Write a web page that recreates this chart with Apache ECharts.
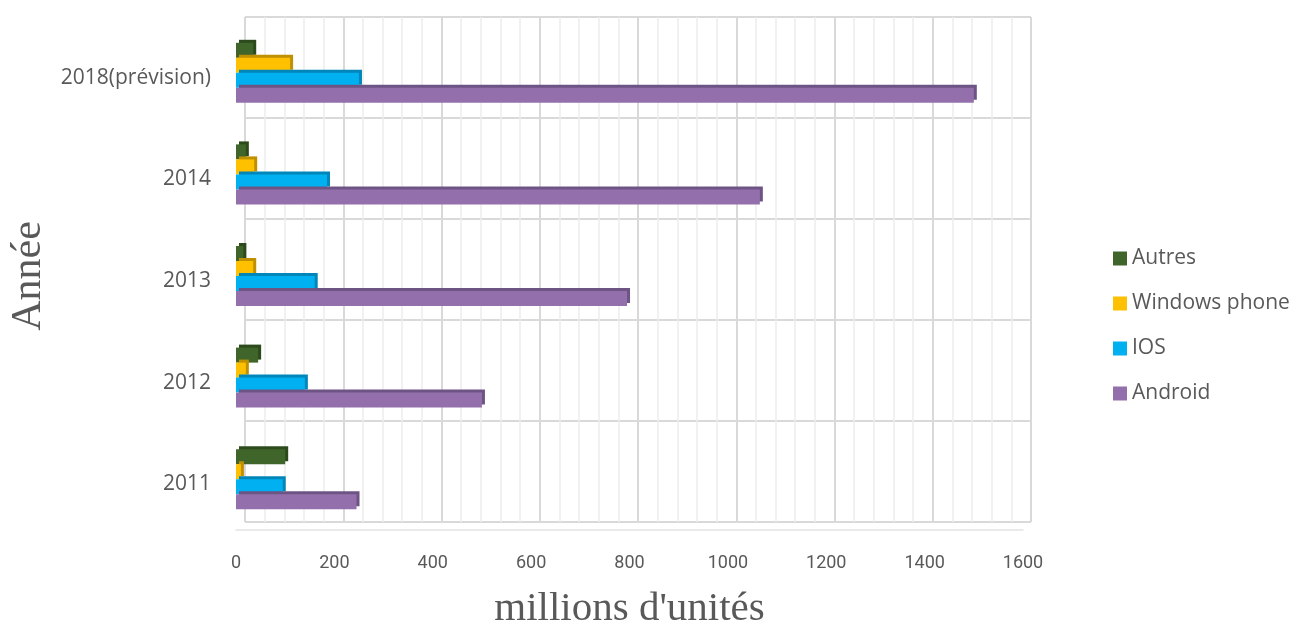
<!DOCTYPE html>
<html><head><meta charset="utf-8">
<script src="https://cdn.jsdelivr.net/npm/echarts@6/dist/echarts.min.js"></script>
<style>html,body{margin:0;padding:0;background:#fff}#c{width:1293px;height:628px}</style>
</head><body><div id="c"></div>
<script>
const years = ['2011', '2012', '2013', '2014', '2018(prévision)'];
const android = [245, 500, 795, 1065, 1500];
const ios = [95, 140, 160, 185, 250];
const windowsPhone = [10, 20, 35, 37, 110];
const autres = [100, 45, 15, 20, 35];
const legendOrder = ['Autres', 'Windows phone', 'IOS', 'Android'];
const xTicks = [0, 1600, 200];

// series drawn top-to-bottom inside each band
const seriesNames = ['Autres', 'Windows phone', 'IOS', 'Android'];
const dataSets = [autres, windowsPhone, ios, android];
const colors = ['#40652A', '#FFC000', '#00B0F0', '#9370AB'];
const dark = ['#2C4A1C', '#BF9000', '#0086B8', '#6E5485'];

const chart = echarts.init(document.getElementById('c'));
chart.setOption({
  animation: false,
  backgroundColor: '#fff',
  grid: [
    {left: 245, right: 262, top: 17, bottom: 106, outerBoundsMode: 'none', containLabel: false},
    {left: 236, right: 270, top: 22, bottom: 98, outerBoundsMode: 'none', containLabel: false}
  ],
  xAxis: [
    {gridIndex: 0, type: 'value', min: xTicks[0], max: xTicks[1], interval: xTicks[2],
     axisLabel: {show: false}, axisLine: {show: false}, axisTick: {show: false},
     splitLine: {show: true, lineStyle: {color: '#D9D9D9', width: 2}},
     minorTick: {show: false, splitNumber: 5},
     minorSplitLine: {show: true, lineStyle: {color: '#EDEDED', width: 1.5}}},
    {gridIndex: 1, type: 'value', min: xTicks[0], max: xTicks[1], interval: xTicks[2],
     axisLine: {show: true, lineStyle: {color: '#E3E3E3', width: 1.5}},
     axisTick: {show: false}, splitLine: {show: false},
     axisLabel: {color: '#595959', fontSize: 18, fontFamily: 'Roboto', margin: 24,
                 formatter: v => String(v)},
     name: "millions d'unités", nameLocation: 'middle', nameGap: 59,
     nameTextStyle: {fontFamily: 'Liberation Serif', fontSize: 41, color: '#595959'}}
  ],
  yAxis: [
    {gridIndex: 0, type: 'category', data: years, axisLabel: {show: false},
     axisLine: {show: false}, axisTick: {show: false},
     splitLine: {show: true, lineStyle: {color: '#D9D9D9', width: 2}}},
    {gridIndex: 1, type: 'category', data: years,
     axisLine: {show: false}, axisTick: {show: false}, splitLine: {show: false},
     axisLabel: {margin: 25, formatter: v => '{a|' + v + '}',
                 rich: {a: {color: '#595959', fontSize: 21, fontFamily: 'Open Sans', padding: [10, 0, 0, 0]}}},
     name: 'Année', nameLocation: 'middle', nameGap: 185, nameRotate: 90,
     nameTextStyle: {fontFamily: 'Liberation Serif', fontSize: 42, color: '#595959'}}
  ],
  legend: {
    orient: 'vertical', left: 1108, top: 243, itemWidth: 14, itemHeight: 14, itemGap: 24,
    icon: 'rect', data: legendOrder,
    textStyle: {color: '#595959', fontSize: 21, fontFamily: 'Open Sans'}
  },
  series: seriesNames.map((n, i) => ({
    name: n, type: 'bar', xAxisIndex: 1, yAxisIndex: 1,
    data: dataSets[i], barWidth: 15, barGap: '0%',
    itemStyle: {color: colors[i], shadowColor: dark[i], shadowOffsetX: 3, shadowOffsetY: -3, shadowBlur: 0}
  }))
});
</script></body></html>
